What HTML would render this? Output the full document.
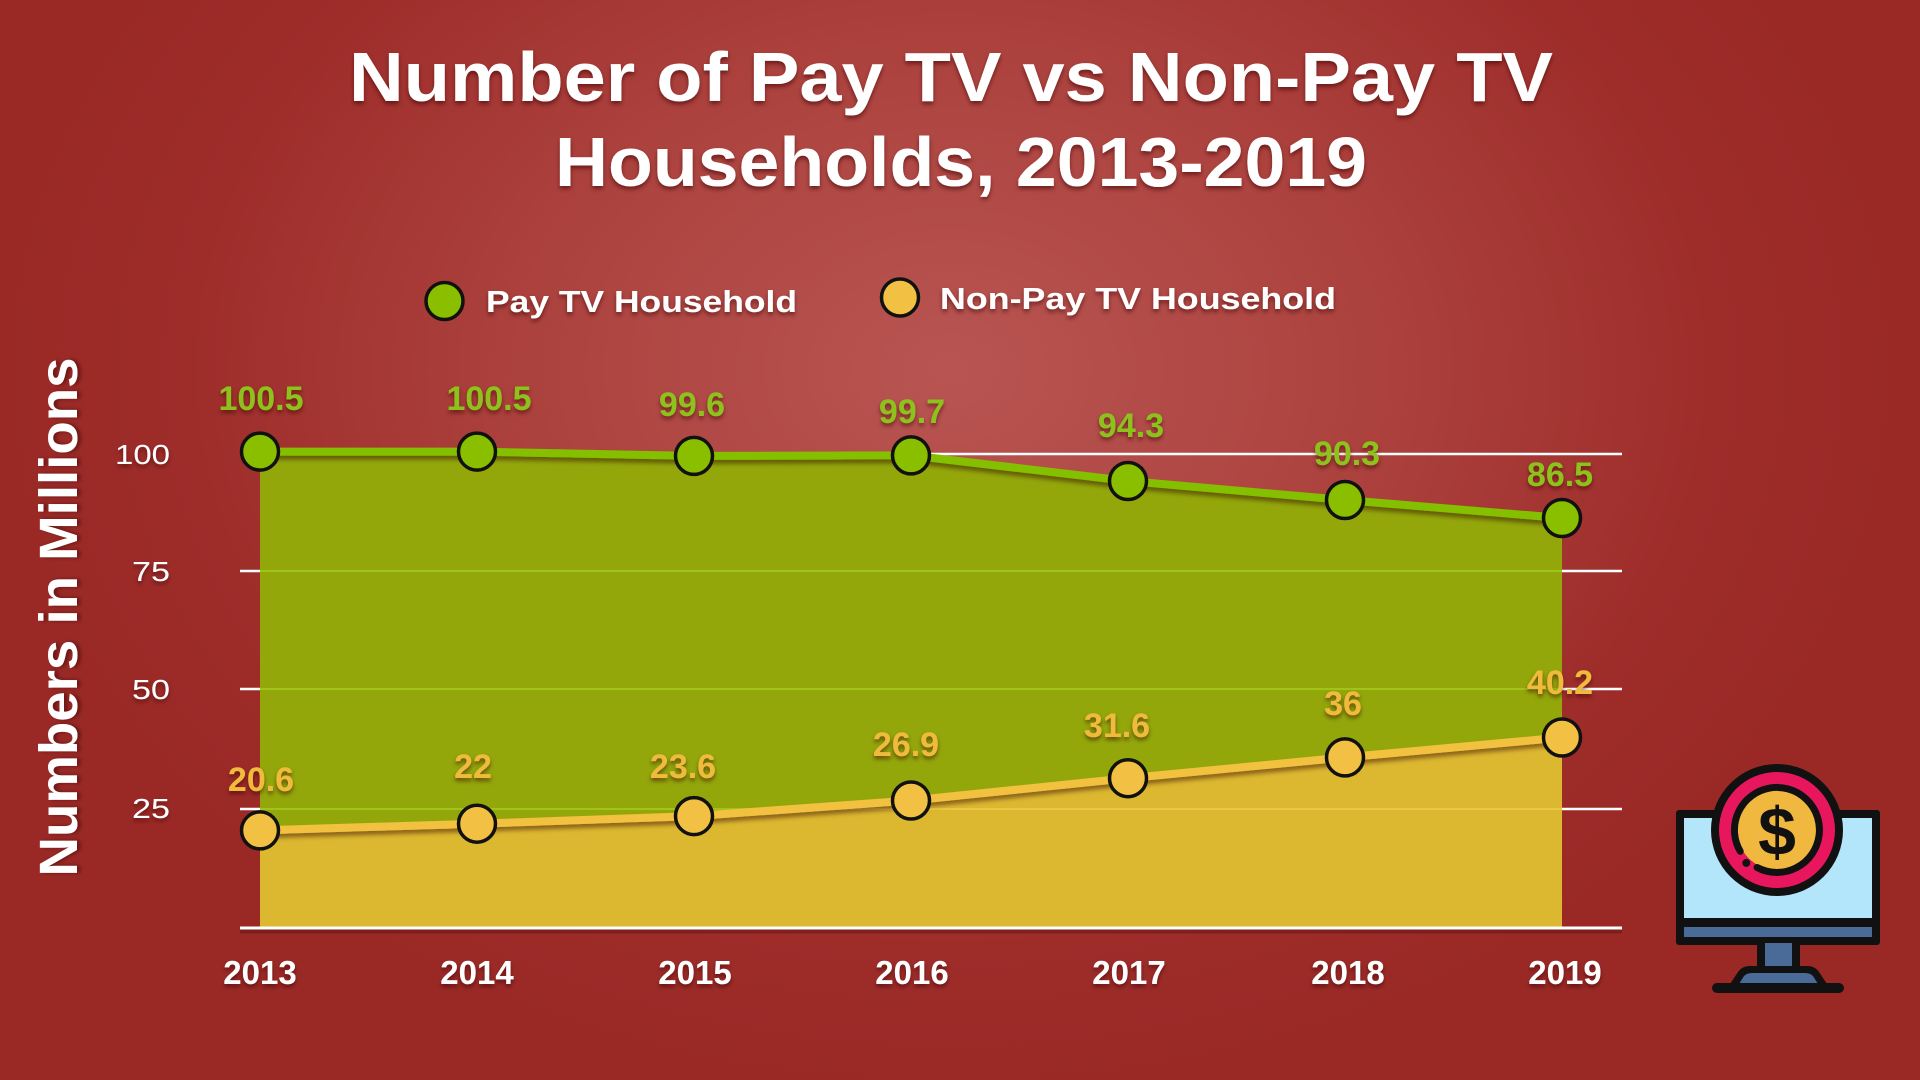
<!DOCTYPE html>
<html>
<head>
<meta charset="utf-8">
<style>
  html,body{margin:0;padding:0;width:1920px;height:1080px;overflow:hidden;}
  body{background:radial-gradient(ellipse 950px 720px at 950px 370px,#b85552 0%,#ad433f 42%,#9e2d2a 80%,#9a2926 100%);}
  svg{position:absolute;left:0;top:0;}
  text{font-family:"Liberation Sans",Arial,sans-serif;}
</style>
</head>
<body>
<svg width="1920" height="1080" viewBox="0 0 1920 1080" xmlns="http://www.w3.org/2000/svg">
  <defs>
    <filter id="ts" x="-20%" y="-40%" width="140%" height="180%">
      <feDropShadow dx="0" dy="3" stdDeviation="2" flood-color="#3a0605" flood-opacity="0.55"/>
    </filter>
    <filter id="ls" filterUnits="userSpaceOnUse" x="0" y="0" width="1920" height="1080">
      <feDropShadow dx="0" dy="4" stdDeviation="2" flood-color="#2a1000" flood-opacity="0.45"/>
    </filter>
    <clipPath id="gclip">
      <polygon points="260,928 260,451.6 477,451.6 694,455.9 911,455.4 1128,481 1345,500 1562,518 1562,928"/>
    </clipPath>
    <clipPath id="yclip">
      <polygon points="260,928 260,830.4 477,823.7 694,816.1 911,800.5 1128,778.2 1345,757.4 1562,737.5 1562,928"/>
    </clipPath>
  </defs>

  <!-- Title -->
  <g fill="#ffffff" font-weight="bold" font-size="70" text-anchor="middle" filter="url(#ts)">
    <text x="951" y="101" textLength="1204" lengthAdjust="spacingAndGlyphs">Number of Pay TV vs Non-Pay TV</text>
    <text x="961" y="186" textLength="812" lengthAdjust="spacingAndGlyphs">Households, 2013-2019</text>
  </g>

  <!-- Legend -->
  <circle cx="444.5" cy="301" r="18.5" fill="#8abf00" stroke="#111" stroke-width="3.5"/>
  <circle cx="900" cy="297.5" r="18.5" fill="#f2c043" stroke="#111" stroke-width="3.5"/>
  <g fill="#ffffff" font-weight="bold" font-size="31" filter="url(#ts)">
    <text x="486" y="312" textLength="311" lengthAdjust="spacingAndGlyphs">Pay TV Household</text>
    <text x="940" y="309" textLength="396" lengthAdjust="spacingAndGlyphs">Non-Pay TV Household</text>
  </g>

  <!-- Y axis title -->
  <text transform="translate(77,617) rotate(-90)" text-anchor="middle" fill="#ffffff" font-weight="bold" font-size="54" textLength="519" lengthAdjust="spacingAndGlyphs" filter="url(#ts)">Numbers in Millions</text>

  <!-- Y labels -->
  <g fill="#ffffff" font-size="28" text-anchor="end" filter="url(#ts)">
    <text x="170" y="464" textLength="55" lengthAdjust="spacingAndGlyphs">100</text>
    <text x="170" y="581" textLength="38" lengthAdjust="spacingAndGlyphs">75</text>
    <text x="170" y="699" textLength="38" lengthAdjust="spacingAndGlyphs">50</text>
    <text x="170" y="818" textLength="38" lengthAdjust="spacingAndGlyphs">25</text>
  </g>

  <!-- Gridlines (white) -->
  <g stroke="#ffffff" stroke-width="2.5">
    <line x1="240" y1="454" x2="1622" y2="454"/>
    <line x1="240" y1="571" x2="1622" y2="571"/>
    <line x1="240" y1="689" x2="1622" y2="689"/>
    <line x1="240" y1="809" x2="1622" y2="809"/>
  </g>

  <!-- Green area -->
  <polygon points="260,928 260,451.6 477,451.6 694,455.9 911,455.4 1128,481 1345,500 1562,518 1562,928" fill="#93a70b"/>
  <g clip-path="url(#gclip)" stroke="rgba(170,220,40,0.55)" stroke-width="2">
    <line x1="240" y1="454" x2="1622" y2="454"/>
    <line x1="240" y1="571" x2="1622" y2="571"/>
    <line x1="240" y1="689" x2="1622" y2="689"/>
    <line x1="240" y1="809" x2="1622" y2="809"/>
  </g>

  <!-- Yellow area -->
  <polygon points="260,928 260,830.4 477,823.7 694,816.1 911,800.5 1128,778.2 1345,757.4 1562,737.5 1562,928" fill="#dcb730"/>
  <g clip-path="url(#yclip)" stroke="rgba(250,215,90,0.5)" stroke-width="2">
    <line x1="240" y1="809" x2="1622" y2="809"/>
  </g>

  <!-- Baseline -->
  <rect x="240" y="929.5" width="1382" height="4" fill="#5a1210" opacity="0.45"/>
  <rect x="240" y="926.5" width="1382" height="3" fill="#ffffff"/>

  <!-- Lines -->
  <polyline points="260,451.6 477,451.6 694,455.9 911,455.4 1128,481 1345,500 1562,518" fill="none" stroke="#84bf00" stroke-width="8" stroke-linejoin="round" filter="url(#ls)"/>
  <polyline points="260,830.4 477,823.7 694,816.1 911,800.5 1128,778.2 1345,757.4 1562,737.5" fill="none" stroke="#f2c141" stroke-width="8" stroke-linejoin="round" filter="url(#ls)"/>

  <!-- Markers -->
  <g fill="#8abf00" stroke="#111" stroke-width="3.5">
    <circle cx="260" cy="451.6" r="18.5"/>
    <circle cx="477" cy="451.6" r="18.5"/>
    <circle cx="694" cy="455.9" r="18.5"/>
    <circle cx="911" cy="455.4" r="18.5"/>
    <circle cx="1128" cy="481" r="18.5"/>
    <circle cx="1345" cy="500" r="18.5"/>
    <circle cx="1562" cy="518" r="18.5"/>
  </g>
  <g fill="#f2c043" stroke="#111" stroke-width="3.5">
    <circle cx="260" cy="830.4" r="18.5"/>
    <circle cx="477" cy="823.7" r="18.5"/>
    <circle cx="694" cy="816.1" r="18.5"/>
    <circle cx="911" cy="800.5" r="18.5"/>
    <circle cx="1128" cy="778.2" r="18.5"/>
    <circle cx="1345" cy="757.4" r="18.5"/>
    <circle cx="1562" cy="737.5" r="18.5"/>
  </g>

  <!-- Data labels -->
  <g fill="#8dc21b" font-weight="bold" font-size="34" text-anchor="middle" filter="url(#ts)">
    <text x="261" y="410">100.5</text>
    <text x="489" y="410">100.5</text>
    <text x="692" y="416">99.6</text>
    <text x="912" y="423">99.7</text>
    <text x="1131" y="437">94.3</text>
    <text x="1347" y="465">90.3</text>
    <text x="1560" y="486">86.5</text>
  </g>
  <g fill="#f0bb3c" font-weight="bold" font-size="34" text-anchor="middle" filter="url(#ts)">
    <text x="261" y="791">20.6</text>
    <text x="473" y="778">22</text>
    <text x="683" y="778">23.6</text>
    <text x="906" y="756">26.9</text>
    <text x="1117" y="737">31.6</text>
    <text x="1343" y="715">36</text>
    <text x="1560" y="694">40.2</text>
  </g>

  <!-- X labels -->
  <g fill="#ffffff" font-weight="bold" font-size="33" text-anchor="middle" filter="url(#ts)">
    <text x="260" y="984">2013</text>
    <text x="477" y="984">2014</text>
    <text x="695" y="984">2015</text>
    <text x="912" y="984">2016</text>
    <text x="1129" y="984">2017</text>
    <text x="1348" y="984">2018</text>
    <text x="1565" y="984">2019</text>
  </g>

  <!-- Icon: monitor with coin -->
  <g>
    <rect x="1676" y="810" width="204" height="135" rx="3" fill="#111"/>
    <rect x="1684" y="818" width="188" height="100" fill="#b3e5fb"/>
    <rect x="1684" y="927" width="188" height="10" fill="#4a6b98"/>
    <rect x="1757" y="943" width="43" height="27" fill="#111"/>
    <rect x="1765" y="943" width="27" height="25" fill="#4a6b98"/>
    <path d="M1730,984 L1738,972 Q1742,966 1750,966 L1807,966 Q1815,966 1819,972 L1827,984 Z" fill="#111"/>
    <path d="M1739,984 L1744,976 Q1747,973 1752,973 L1805,973 Q1810,973 1813,976 L1818,984 Z" fill="#4a6b98"/>
    <rect x="1712" y="983" width="132" height="10" rx="5" fill="#111"/>
    <!-- coin -->
    <circle cx="1777" cy="830" r="66" fill="#111"/>
    <circle cx="1777" cy="830" r="58" fill="#e8175d"/>
    <circle cx="1777" cy="830" r="40" fill="#f0b83e"/>
    <path d="M1740.2 851.3 A42.5 42.5 0 1 1 1757.05 867.5" fill="none" stroke="#111" stroke-width="7" stroke-linecap="round"/>
    <circle cx="1746.3" cy="862.9" r="4" fill="#111"/>
    <text x="1777" y="855" text-anchor="middle" font-weight="bold" font-size="68" fill="#111">$</text>
  </g>
</svg>
</body>
</html>
